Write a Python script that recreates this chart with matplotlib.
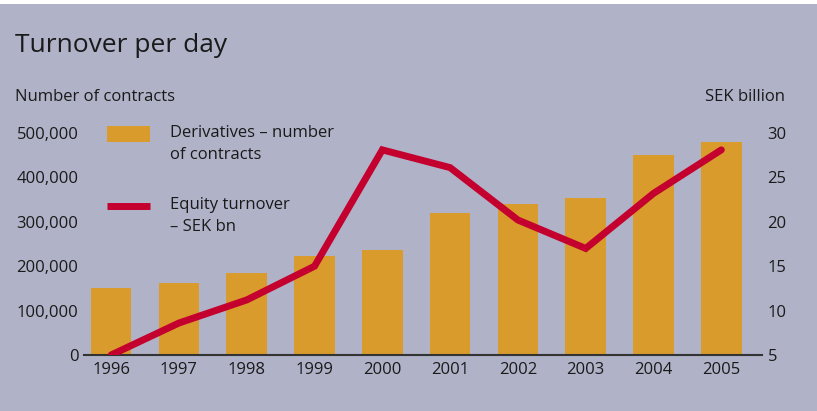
import matplotlib.pyplot as plt
from matplotlib.patches import Rectangle
from matplotlib.lines import Line2D
from matplotlib.ticker import FuncFormatter

years = ['1996', '1997', '1998', '1999', '2000', '2001', '2002', '2003', '2004', '2005']
contracts = [150000, 163000, 185000, 223000, 236000, 319000, 340000, 354000, 450000, 480000]
equity_sek_bn = [5, 8.6, 11.2, 15, 28.1, 26.1, 20.2, 17, 23.2, 28.1]

bg = '#B0B3C8'
bar_col = '#D99B2B'
line_col = '#C4002F'
txt = '#1a1a1a'
plt.rcParams['font.family'] = ['Open Sans', 'DejaVu Sans']

fig = plt.figure(figsize=(8.17, 4.11), dpi=100, facecolor=bg)
# thin white strip along the top edge
fig.patches.append(Rectangle((0, 1 - 4 / 411), 1, 4 / 411, transform=fig.transFigure,
                             facecolor='white', edgecolor='none'))

ax = fig.add_axes([84 / 817, 1 - 355 / 411, (762 - 84) / 817, (355 - 133) / 411])
ax.set_facecolor('none')
x = list(range(len(years)))
ax.bar(x, contracts, width=0.6, color=bar_col, zorder=2)
ax.set_xlim(-0.4, 9.6)
ax.set_ylim(0, 500000)
ax.set_yticks(range(0, 500001, 100000))
ax.yaxis.set_major_formatter(FuncFormatter(lambda v, p: f'{int(v):,}'))
ax.set_xticks(x)
ax.set_xticklabels(years)
for s in ['top', 'left', 'right']:
    ax.spines[s].set_visible(False)
ax.spines['bottom'].set_color('#333333')
ax.spines['bottom'].set_linewidth(1.5)
ax.spines['bottom'].set_zorder(3)
ax.tick_params(length=0, labelsize=12, colors=txt)
ax.tick_params(axis='x', pad=5)
ax.tick_params(axis='y', pad=4)

ax2 = ax.twinx()
ax2.plot(x, equity_sek_bn, color=line_col, lw=5, solid_capstyle='round',
         solid_joinstyle='miter', zorder=4)
ax2.set_ylim(5, 30)
ax2.set_yticks(range(5, 31, 5))
for s in ['top', 'left', 'right', 'bottom']:
    ax2.spines[s].set_visible(False)
ax2.tick_params(length=0, labelsize=12, colors=txt, pad=4)

fig.text(15 / 817, 1 - 45 / 411, 'Turnover per day', fontsize=19, color=txt, va='center')
fig.text(15 / 817, 1 - 97 / 411, 'Number of contracts', fontsize=12, color=txt, va='center')
fig.text(785 / 817, 1 - 97 / 411, 'SEK billion', fontsize=12, color=txt, va='center', ha='right')

# legend drawn by hand
fig.patches.append(Rectangle((107 / 817, 1 - 142 / 411), 43 / 817, 16 / 411,
                             transform=fig.transFigure, facecolor=bar_col, edgecolor='none'))
fig.text(170 / 817, 1 - 144 / 411, 'Derivatives – number\nof contracts', fontsize=12,
         color=txt, va='center', linespacing=1.45)
fig.lines.append(Line2D([107 / 817, 150 / 817], [1 - 206 / 411, 1 - 206 / 411],
                        transform=fig.transFigure, color=line_col, lw=5,
                        solid_capstyle='butt'))
fig.text(170 / 817, 1 - 216 / 411, 'Equity turnover\n– SEK bn', fontsize=12,
         color=txt, va='center', linespacing=1.45)

fig.savefig('out.png', dpi=100, facecolor=bg)
